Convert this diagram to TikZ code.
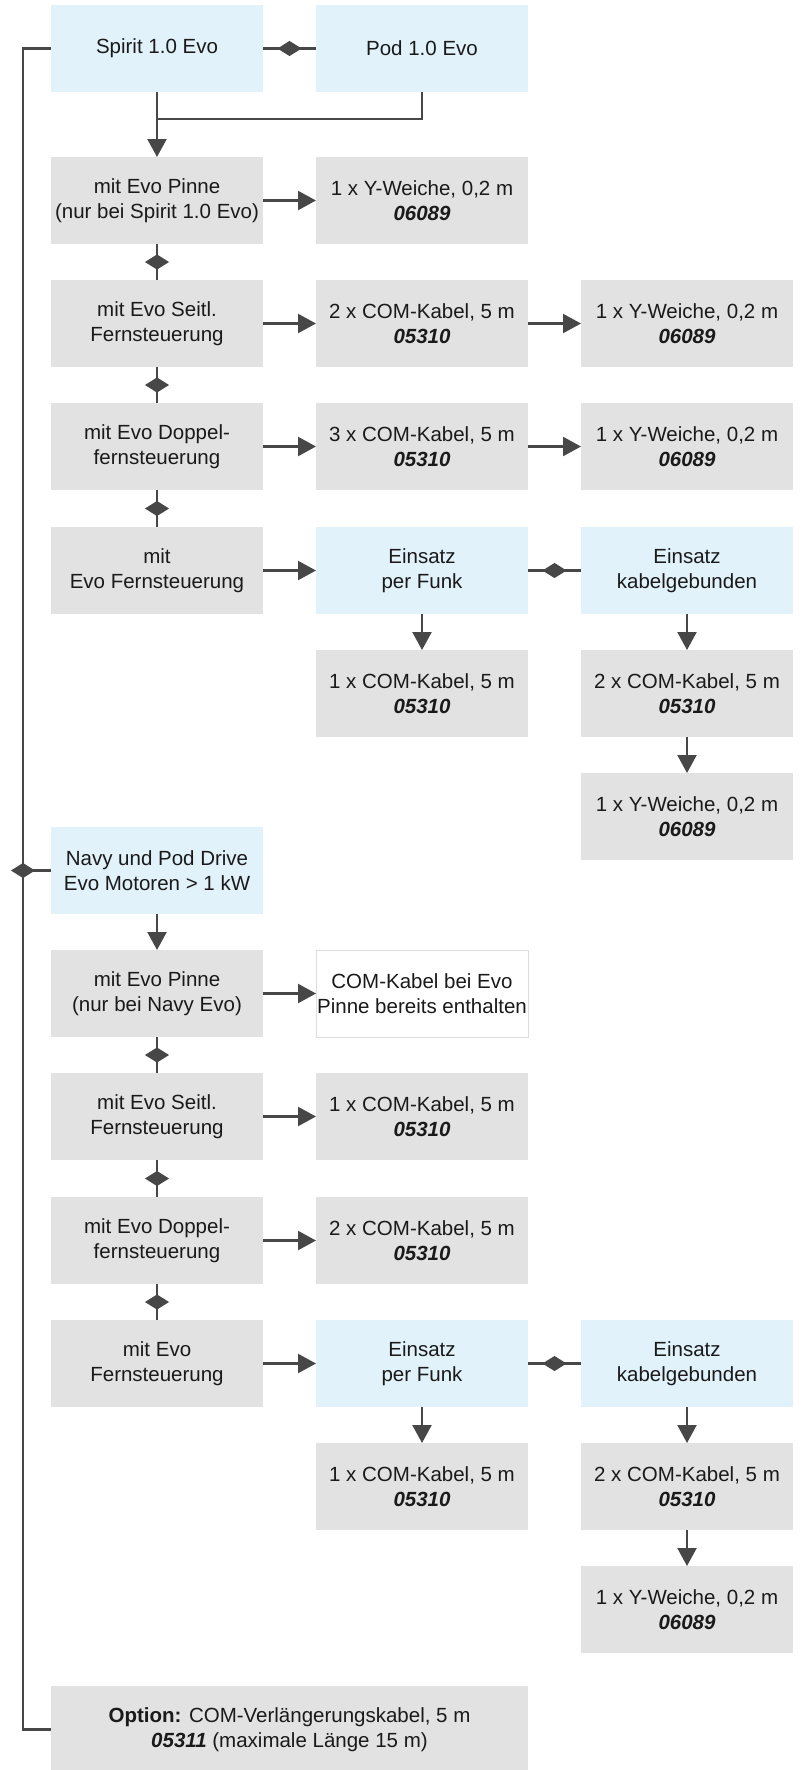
\documentclass[tikz,border=0pt]{standalone}
\usepackage{fontspec}
\setmainfont{Liberation Sans}
\usetikzlibrary{arrows.meta,shapes.geometric,calc}
\definecolor{lc}{HTML}{474747}
\definecolor{bluebg}{HTML}{E1F2FB}
\definecolor{graybg}{HTML}{E2E2E2}
\definecolor{wborder}{HTML}{DDDDDD}
\definecolor{txt}{HTML}{1A1A1A}
\newcommand{\artnr}[1]{\textbf{\textit{#1}}}
\begin{document}
\begin{tikzpicture}[x=1pt,y=-1pt,
 box/.style={minimum width=212pt,minimum height=87pt,inner sep=0pt,outer sep=0pt,align=center,text=txt,font=\fontsize{20.5}{25.5}\selectfont},
 bbox/.style={box,fill=bluebg},
 gbox/.style={box,fill=graybg},
 wbox/.style={box,fill=white,draw=wborder,line width=1pt},
 conn/.style={draw=lc,line width=2.2pt},
 arr/.style={conn,-{Triangle[length=18pt,width=19pt]}},
 dia/.style={diamond,fill=lc,inner sep=0pt,minimum width=25pt,minimum height=16pt,draw=none}
]
\useasboundingbox (0,0) rectangle (802,1770);
\fill[white] (0,0) rectangle (802,1770);

% ---------- section 1 ----------
\node[bbox] (spirit) at (157,48.5) {Spirit 1.0 Evo};
\node[bbox] (pod) at (422,48.5) {Pod 1.0 Evo};
\node[gbox] (pinneA) at (157,200.5) {mit Evo Pinne\\(nur bei Spirit 1.0 Evo)};
\node[gbox] (yA) at (422,200.5) {1 x Y-Weiche, 0,2 m\\\artnr{06089}};
\node[gbox] (seitlA) at (157,323.5) {mit Evo Seitl.\\Fernsteuerung};
\node[gbox] (comA) at (422,323.5) {2 x COM-Kabel, 5 m\\\artnr{05310}};
\node[gbox] (yB) at (687,323.5) {1 x Y-Weiche, 0,2 m\\\artnr{06089}};
\node[gbox] (doppA) at (157,446.5) {mit Evo Doppel-\\fernsteuerung};
\node[gbox] (comB) at (422,446.5) {3 x COM-Kabel, 5 m\\\artnr{05310}};
\node[gbox] (yC) at (687,446.5) {1 x Y-Weiche, 0,2 m\\\artnr{06089}};
\node[gbox] (fernA) at (157,570.5) {mit\\Evo Fernsteuerung};
\node[bbox] (funkA) at (422,570.5) {Einsatz\\per Funk};
\node[bbox] (kabA) at (687,570.5) {Einsatz\\kabelgebunden};
\node[gbox] (comC) at (422,693.5) {1 x COM-Kabel, 5 m\\\artnr{05310}};
\node[gbox] (comD) at (687,693.5) {2 x COM-Kabel, 5 m\\\artnr{05310}};
\node[gbox] (yD) at (687,816.5) {1 x Y-Weiche, 0,2 m\\\artnr{06089}};

% ---------- section 2 ----------
\node[bbox] (navy) at (157,870.5) {Navy und Pod Drive\\Evo Motoren > 1 kW};
\node[gbox] (pinneB) at (157,993.5) {mit Evo Pinne\\(nur bei Navy Evo)};
\node[wbox] (incl) at (422,993.5) {COM-Kabel bei Evo\\Pinne bereits enthalten};
\node[gbox] (seitlB) at (157,1116.5) {mit Evo Seitl.\\Fernsteuerung};
\node[gbox] (comE) at (422,1116.5) {1 x COM-Kabel, 5 m\\\artnr{05310}};
\node[gbox] (doppB) at (157,1240.5) {mit Evo Doppel-\\fernsteuerung};
\node[gbox] (comF) at (422,1240.5) {2 x COM-Kabel, 5 m\\\artnr{05310}};
\node[gbox] (fernB) at (157,1363.5) {mit Evo\\Fernsteuerung};
\node[bbox] (funkB) at (422,1363.5) {Einsatz\\per Funk};
\node[bbox] (kabB) at (687,1363.5) {Einsatz\\kabelgebunden};
\node[gbox] (comG) at (422,1486.5) {1 x COM-Kabel, 5 m\\\artnr{05310}};
\node[gbox] (comH) at (687,1486.5) {2 x COM-Kabel, 5 m\\\artnr{05310}};
\node[gbox] (yE) at (687,1609.5) {1 x Y-Weiche, 0,2 m\\\artnr{06089}};

\node[gbox,minimum width=477pt] (opt) at (289.5,1729.5) {\textbf{Option:} COM-Verlängerungskabel, 5 m\\\artnr{05311} (maximale Länge 15 m)};

% ---------- connectors ----------
\coordinate (Lx) at (23,0);
\coordinate (join) at (157,119);

\draw[conn] (spirit) -- node[dia]{} (pod);
\draw[arr] (spirit) -- (pinneA);
\draw[conn] (pod.south) |- (join);
\draw[arr] (pinneA) -- (yA);
\draw[conn] (pinneA) -- node[dia]{} (seitlA);
\draw[arr] (seitlA) -- (comA);
\draw[arr] (comA) -- (yB);
\draw[conn] (seitlA) -- node[dia]{} (doppA);
\draw[arr] (doppA) -- (comB);
\draw[arr] (comB) -- (yC);
\draw[conn] (doppA) -- node[dia]{} (fernA);
\draw[arr] (fernA) -- (funkA);
\draw[conn] (funkA) -- node[dia]{} (kabA);
\draw[arr] (funkA) -- (comC);
\draw[arr] (kabA) -- (comD);
\draw[arr] (comD) -- (yD);

\draw[conn] (spirit.west) -- (spirit.west -| Lx) |- (opt.west);
\draw[conn] (navy.west) -- (navy.west -| Lx) node[dia]{};

\draw[arr] (navy) -- (pinneB);
\draw[arr] (pinneB) -- (incl);
\draw[conn] (pinneB) -- node[dia]{} (seitlB);
\draw[arr] (seitlB) -- (comE);
\draw[conn] (seitlB) -- node[dia]{} (doppB);
\draw[arr] (doppB) -- (comF);
\draw[conn] (doppB) -- node[dia]{} (fernB);
\draw[arr] (fernB) -- (funkB);
\draw[conn] (funkB) -- node[dia]{} (kabB);
\draw[arr] (funkB) -- (comG);
\draw[arr] (kabB) -- (comH);
\draw[arr] (comH) -- (yE);
\end{tikzpicture}
\end{document}
